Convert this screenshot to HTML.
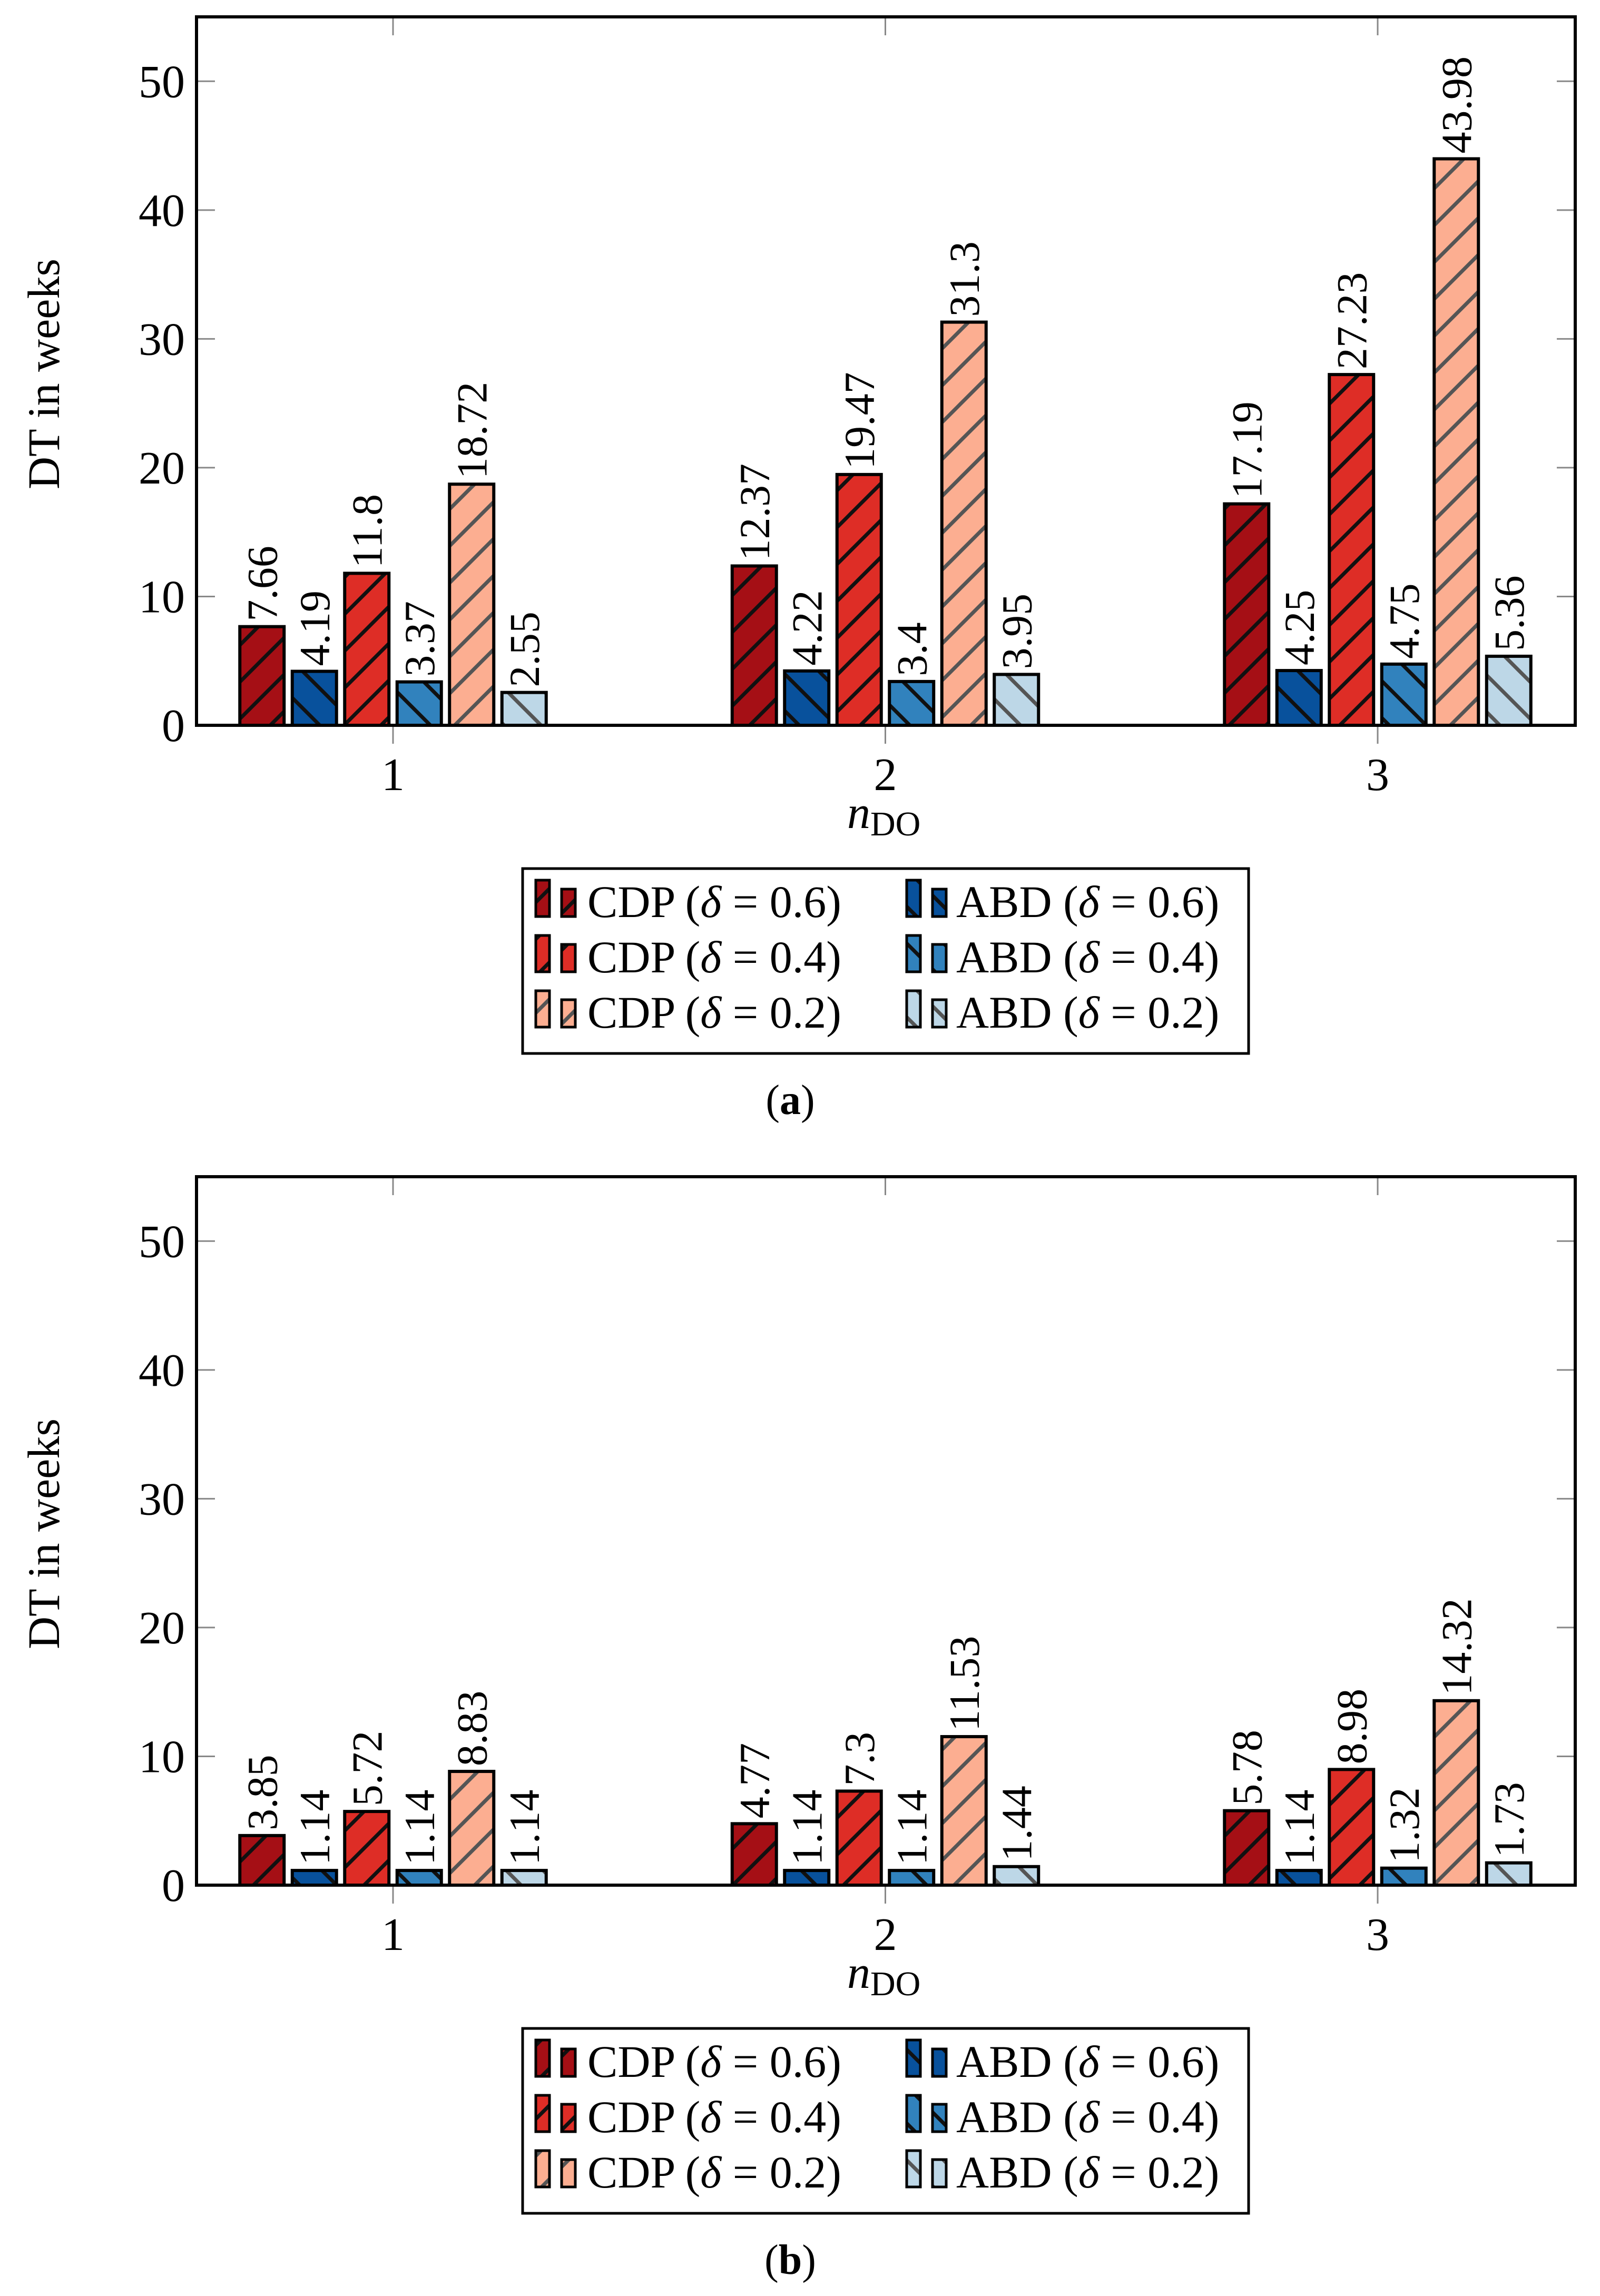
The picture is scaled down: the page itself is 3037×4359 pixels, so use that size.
<!DOCTYPE html>
<html><head><meta charset="utf-8"><style>
html,body{margin:0;padding:0;background:#fff;}
svg{display:block;font-family:"Liberation Serif","DejaVu Serif",serif;}
</style></head><body>
<svg id="svg" width="3037" height="4359" viewBox="0 0 3037 4359" xmlns="http://www.w3.org/2000/svg">
<defs>
<pattern id="ne-k" patternUnits="userSpaceOnUse" width="70" height="70"><path d="M-10,80 L80,-10 M-80,80 L80,-80 M-10,150 L150,-10" stroke="#111" stroke-width="7"/></pattern>
<pattern id="ne-g" patternUnits="userSpaceOnUse" width="70" height="70"><path d="M-10,80 L80,-10 M-80,80 L80,-80 M-10,150 L150,-10" stroke="#555" stroke-width="7"/></pattern>
<pattern id="nw-k" patternUnits="userSpaceOnUse" width="70" height="70"><path d="M-10,-10 L80,80 M-80,-80 L80,80 M60,-10 L150,80 M-10,60 L80,150" stroke="#111" stroke-width="7"/></pattern>
<pattern id="nw-g" patternUnits="userSpaceOnUse" width="70" height="70"><path d="M-10,-10 L80,80 M-80,-80 L80,80 M60,-10 L150,80 M-10,60 L80,150" stroke="#555" stroke-width="7"/></pattern>
</defs>
</svg>
<script>
const categories = [1, 2, 3];
const seriesNames = ["CDP (δ = 0.6)", "ABD (δ = 0.6)", "CDP (δ = 0.4)", "ABD (δ = 0.4)", "CDP (δ = 0.2)", "ABD (δ = 0.2)"];
const valuesA = [[7.66, 12.37, 17.19],[4.19, 4.22, 4.25],[11.8, 19.47, 27.23],[3.37, 3.4, 4.75],[18.72, 31.3, 43.98],[2.55, 3.95, 5.36]];
const valuesB = [[3.85, 4.77, 5.78],[1.14, 1.14, 1.14],[5.72, 7.3, 8.98],[1.14, 1.14, 1.32],[8.83, 11.53, 14.32],[1.14, 1.44, 1.73]];
const yTicks = [0, 10, 20, 30, 40, 50];
const colors = ["#a50f15","#08519c","#de2d26","#3182bd","#fcae91","#bdd7e7"];
const hatch = ["url(#ne-k)","url(#nw-k)","url(#ne-k)","url(#nw-k)","url(#ne-g)","url(#nw-g)"];
const NS = "http://www.w3.org/2000/svg";
const svg = document.getElementById('svg');
function mk(tag, attrs, parent, text){const e=document.createElementNS(NS,tag);for(const k in attrs)e.setAttribute(k,attrs[k]);if(text!==undefined)e.textContent=text;(parent||svg).appendChild(e);return e;}

function chart(values, oy, label, cap){
  const g = mk('g',{});
  
  
  const L=373, R=2990, T=32+oy, B=1377+oy, ymax=55;
  const ys = v => B - v*(B-T)/ymax;
  const x0 = 746, dx = 934.5;
  const xs = c => x0 + (c-1)*dx;
  const pitch = 99.5, bw = 84;
  yTicks.forEach(t=>{
    const y=ys(t);
    const tl=mk('line',{x1:L,x2:L+35,y1:y,y2:y,stroke:'#888','stroke-width':3},g);
    
    
    mk('line',{x1:R-35,x2:R,y1:y,y2:y,stroke:'#888','stroke-width':3},g);
    const tx=mk('text',{x:L-22,y:y+30,'text-anchor':'end','font-size':88},g,String(t));
    
    
  });
  categories.forEach(c=>{
    const x=xs(c);
    mk('line',{x1:x,x2:x,y1:B,y2:B+35,stroke:'#888','stroke-width':3},g);
    mk('line',{x1:x,x2:x,y1:T,y2:T+35,stroke:'#888','stroke-width':3},g);
    const tx=mk('text',{x:x,y:B+123,'text-anchor':'middle','font-size':88},g,String(c));
    
    
  });
  values.forEach((ser,si)=>{
    ser.forEach((v,ci)=>{
      const cx = xs(categories[ci]) + (si-2.5)*pitch;
      const y=ys(v);
      const r=mk('rect',{x:cx-bw/2,y:y,width:bw,height:B-y,fill:colors[si],stroke:'none'},g);
      
      
      mk('rect',{x:cx-bw/2,y:y,width:bw,height:B-y,fill:hatch[si],stroke:'#000','stroke-width':6},g);
      const t=mk('text',{x:0,y:0,'font-size':82,transform:`translate(${cx+28},${y-10}) rotate(-90)`},g,String(v));
      
      
    });
  });
  const fr=mk('rect',{x:L,y:T,width:R-L,height:B-T,fill:'none',stroke:'#000','stroke-width':6},g);
  
  
  const yt=mk('text',{x:0,y:0,'font-size':86,'text-anchor':'middle',transform:`translate(112,${710+oy}) rotate(-90)`},g,'DT in weeks');
  
  
  const xt=mk('text',{x:1608,y:1572+oy,'font-size':88},g);
  
  
  mk('tspan',{'font-style':'italic'},xt,'n');
  mk('tspan',{'font-size':66,dy:14},xt,'DO');
  const lg=mk('g',{},g);
  
  
  mk('rect',{x:992,y:1649+oy,width:1378,height:351,fill:'#fff',stroke:'#000','stroke-width':5},lg);
  const rowsY=[1740,1845,1950];
  seriesNames.forEach((n,si)=>{
    const col = si%2, row=Math.floor(si/2);
    const ix = col? 1721:1017, tx = col? 1815:1115;
    const by = rowsY[row]+oy;
    const e=mk('g',{},lg);
    
    
    [[ix,26,69],[ix+49,26,52]].forEach(([x,w,h])=>{
      mk('rect',{x:x,y:by-h,width:w,height:h,fill:colors[si]},e);
      mk('rect',{x:x,y:by-h,width:w,height:h,fill:hatch[si],stroke:'#000','stroke-width':5},e);
    });
    const t=mk('text',{x:tx,y:by+1,'font-size':86},e);
    const parts=n.split('δ');
    mk('tspan',{},t,parts[0]);
    mk('tspan',{'font-style':'italic'},t,'δ');
    mk('tspan',{},t,parts[1]);
  });
  const cp=mk('text',{x:1500,y:2115+oy,'font-size':80,'text-anchor':'middle'},g);
  
  
  mk('tspan',{},cp,'(');
  mk('tspan',{'font-weight':'bold'},cp,cap);
  mk('tspan',{},cp,')');
}
chart(valuesA, 0, 'a', 'a');
chart(valuesB, 2202, 'b', 'b');
</script>
</body></html>
